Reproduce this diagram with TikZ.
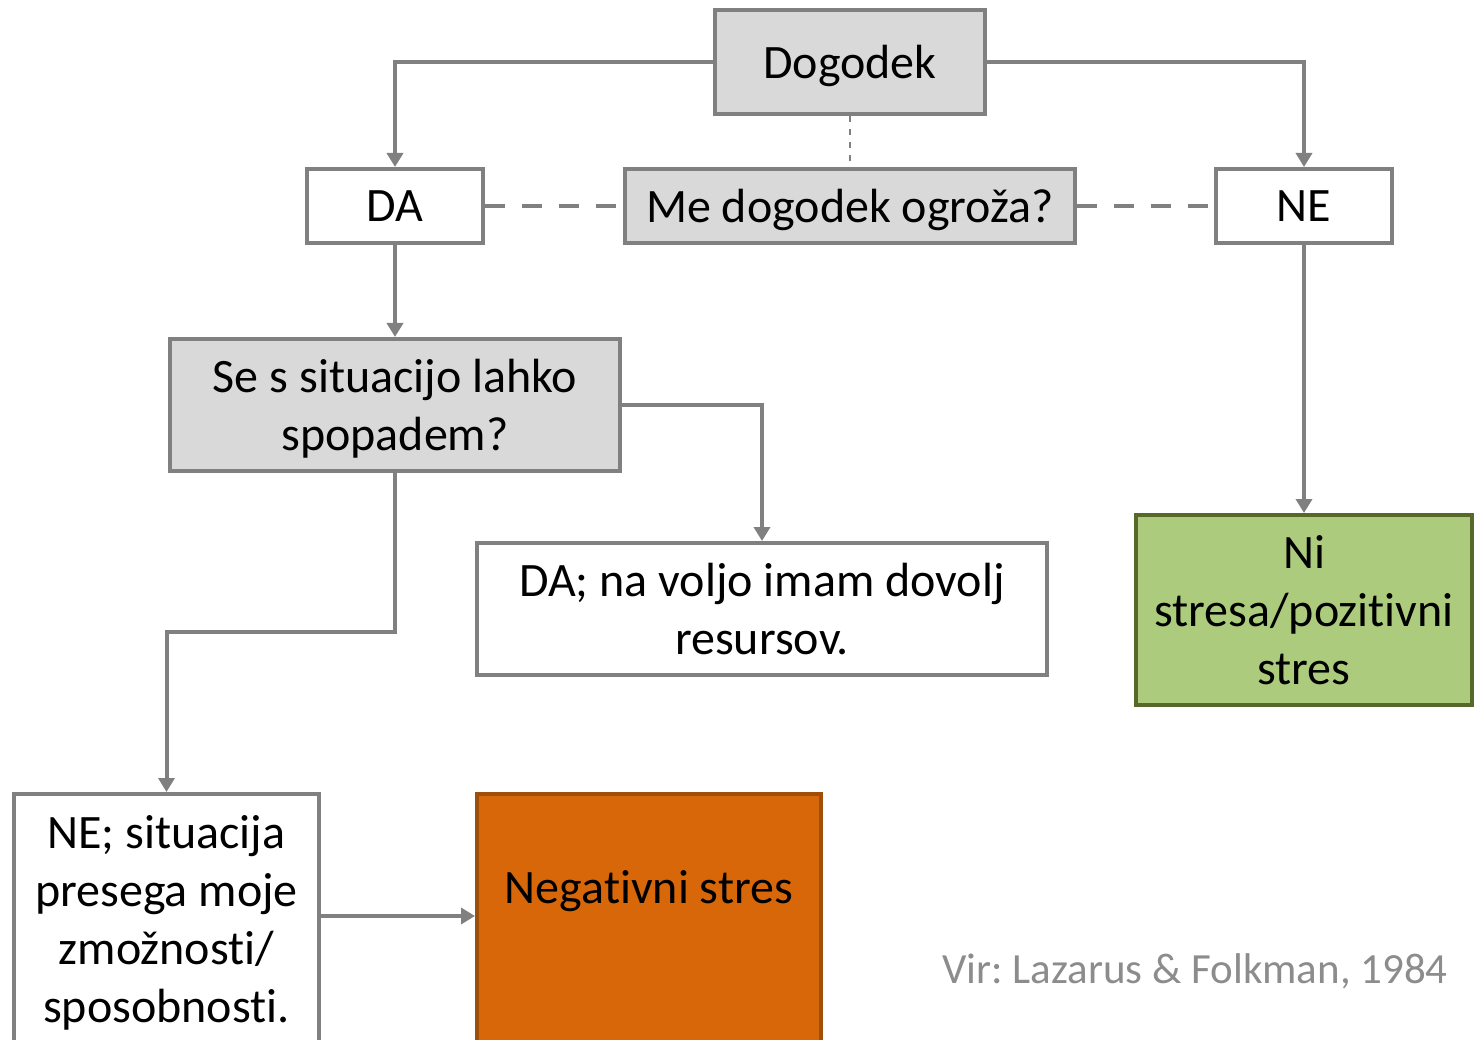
\documentclass[tikz,border=0pt]{standalone}
\usepackage{fontspec}
\setmainfont{Carlito}[RawFeature={-liga;-clig;-dlig}]
\usetikzlibrary{arrows.meta}
\definecolor{linegray}{HTML}{808080}
\definecolor{boxgray}{HTML}{D9D9D9}
\definecolor{okfill}{HTML}{ADCB7D}
\definecolor{okdraw}{HTML}{56692B}
\definecolor{badfill}{HTML}{D86709}
\definecolor{baddraw}{HTML}{9E4F0C}
\definecolor{notegray}{HTML}{8C8C8C}
% keep "t" and "i" as separate glyphs
\newcommand{\tisplit}{t\kern0pt i}
\begin{document}
\frenchspacing
\begin{tikzpicture}[x=1pt,y=-1pt,
  txt/.style={font=\fontsize{48}{58}\selectfont, align=center},
  box/.style={txt, draw=linegray, line width=4pt, fill=white, inner sep=0pt, text depth=0pt},
  greybox/.style={box, fill=boxgray},
  conn/.style={draw=linegray, line width=4pt, -{Triangle[width=16pt,length=14pt]}},
  dashlink/.style={draw=linegray, line width=4pt, dash pattern=on 20pt off 17pt},
  thindash/.style={draw=linegray, line width=1.5pt, dash pattern=on 6pt off 7pt}
]
\useasboundingbox (0,0) rectangle (1478,1040);

% question and answer boxes
\node[greybox, minimum width=270, minimum height=104] (event) at (850,62) {Dogodek};
\node[box, minimum width=176, minimum height=74] (yes) at (395,206) {DA};
\node[greybox, minimum width=450, minimum height=74] (threat) at (850,206) {Me dogodek ogroža?};
\node[box, minimum width=176, minimum height=74] (no) at (1304,206) {NE};
\node[greybox, minimum width=450, minimum height=132] (cope) at (395,405) {Se s situacijo lahko\\spopadem?};
\node[box, minimum width=570, minimum height=132] (enough) at (762,609) {DA; na voljo imam dovolj\\resursov.};
\node[box, fill=okfill, draw=okdraw, minimum width=336, minimum height=190] (nostress) at (1304,610) {Ni\\stresa/pozi\tisplit vni\\stres};

% boxes running past the lower edge
\node[box, minimum width=305, minimum height=400, anchor=north] (over) at (166.5,792) {};
\node[txt, inner sep=0pt, anchor=north] (overtext) at (166.5,815) {NE; situacija\\presega moje\\zmožnos\tisplit/\\sposobnos\tisplit.};
\node[box, fill=badfill, draw=baddraw, minimum width=344, minimum height=400, anchor=north] (neg) at (649,792) {};
\node[txt, inner sep=0pt, anchor=base] (negtext) at (649,903) {Nega\tisplit vni stres};

% source note
\node[font=\fontsize{43}{52}\selectfont, text=notegray, inner sep=0pt, anchor=base] (source) at (1195,983) {Vir: Lazarus \& Folkman, 1984};

% connectors
\draw[conn] (event.west) -| (yes.north);
\draw[conn] (event.east) -| (no.north);
\draw[thindash] (event.south) -- (threat.north);
\draw[dashlink] (yes.east) -- (threat.west);
\draw[dashlink] (threat.east) -- (no.west);
\draw[conn] (yes.south) -- (cope.north);
\draw[conn] (cope.east) -| (enough.north);
\draw[conn] (no.south) -- (nostress.north);
\draw[conn] (cope.south) |- (166.5,632) -- (over.north);
\draw[conn] (over.east |- 0,916) -- (neg.west |- 0,916);
\end{tikzpicture}
\end{document}
